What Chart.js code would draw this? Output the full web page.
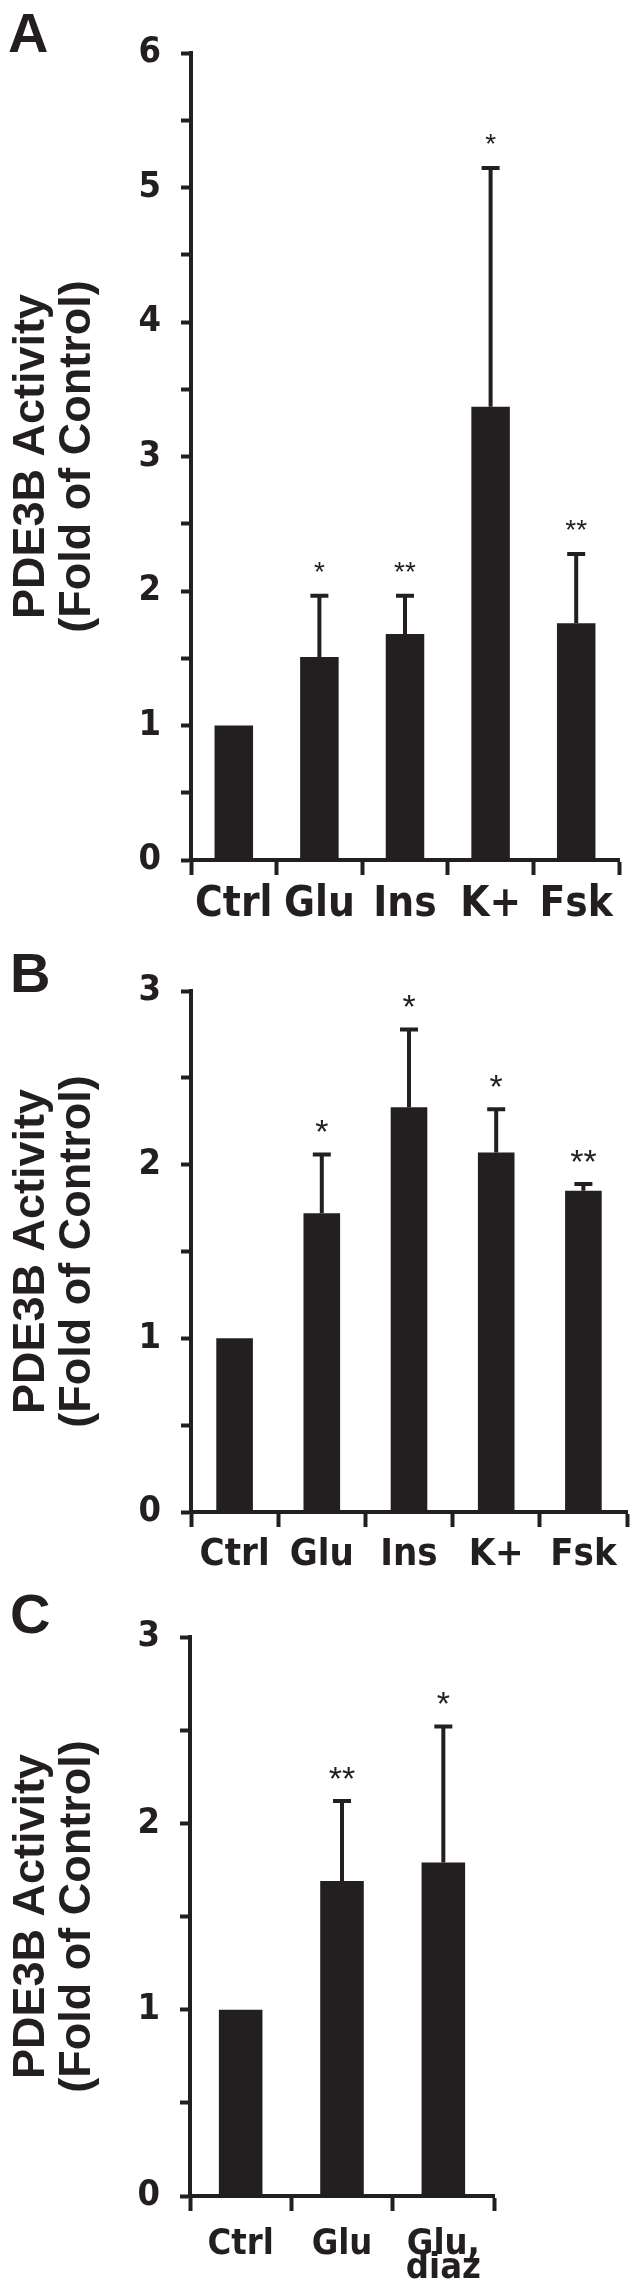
<!DOCTYPE html>
<html>
<head>
<meta charset="utf-8">
<script src="https://cdn.jsdelivr.net/npm/chart.js@4.4.1/dist/chart.umd.min.js"></script>
<style>
  body { margin: 0; background: #fff; width: 633px; height: 2290px; position: relative; overflow: hidden; }
  canvas { position: absolute; left: 0; }
</style>
</head>
<body>
<canvas id="chartA" width="633" height="940" style="top:0px"></canvas>
<canvas id="chartB" width="633" height="635" style="top:940px"></canvas>
<canvas id="chartC" width="633" height="715" style="top:1575px"></canvas>
<script>
// panel A
var labelsA = ['Ctrl', 'Glu', 'Ins', 'K+', 'Fsk'];
var meanA = [1.0, 1.51, 1.68, 3.37, 1.76];
var errA = [0, 0.47, 0.30, 1.79, 0.53];
var sigA = ['', '*', '**', '*', '**'];
var ticksA = [0, 1, 2, 3, 4, 5, 6];

// panel B
var labelsB = ['Ctrl', 'Glu', 'Ins', 'K+', 'Fsk'];
var meanB = [1.0, 1.72, 2.33, 2.07, 1.85];
var errB = [0, 0.35, 0.46, 0.26, 0.05];
var sigB = ['', '*', '*', '*', '**'];
var ticksB = [0, 1, 2, 3];

// panel C
var labelsC = ['Ctrl', 'Glu', ['Glu,', 'diaz']];
var meanC = [1.0, 1.69, 1.79];
var errC = [0, 0.44, 0.74];
var sigC = ['', '**', '*'];
var ticksC = [0, 1, 2, 3];

var ink = '#231f20';
var narrow = '"Liberation Sans Narrow", "DejaVu Sans Condensed", "Liberation Sans", sans-serif';
var wide = '"Liberation Sans", Arial, sans-serif';

// draws the upward error bars, the stars and the panel letter
function panelExtras(mean, err, sig, letter, letterX, letterY, starSize) {
  return {
    id: 'panelExtras',
    afterDatasetsDraw: function(chart) {
      var ctx = chart.ctx;
      var yScale = chart.scales.y;
      var meta = chart.getDatasetMeta(0);
      ctx.save();
      ctx.strokeStyle = ink;
      ctx.fillStyle = ink;
      ctx.lineWidth = 4;
      for (var i = 0; i < mean.length; i++) {
        var px = meta.data[i].x;
        var base = yScale.getPixelForValue(mean[i]);
        var top = yScale.getPixelForValue(mean[i] + err[i]);
        if (err[i] > 0) {
          ctx.beginPath();
          ctx.moveTo(px, base);
          ctx.lineTo(px, top);
          ctx.moveTo(px - 9, top + 2);
          ctx.lineTo(px + 9, top + 2);
          ctx.stroke();
        }
        if (sig[i]) {
          ctx.font = starSize + 'px ' + wide;
          ctx.textAlign = 'center';
          ctx.textBaseline = 'alphabetic';
          ctx.fillText(sig[i], px, top - 29 + starSize * 0.58);
        }
      }
      ctx.font = 'bold 56px ' + wide;
      ctx.textAlign = 'left';
      ctx.textBaseline = 'alphabetic';
      ctx.fillText(letter, letterX, letterY);
      ctx.restore();
    }
  };
}

function makeChart(id, labels, mean, yMax, shown, box, style) {
  var canvas = document.getElementById(id);
  return new Chart(canvas, {
    type: 'bar',
    data: {
      labels: labels,
      datasets: [{
        data: mean,
        backgroundColor: ink,
        borderWidth: 0,
        barPercentage: style.barPct,
        categoryPercentage: 1
      }]
    },
    options: {
      responsive: false,
      animation: false,
      events: [],
      layout: { padding: { left: 0, top: box.top, right: 633 - box.right, bottom: 0 } },
      plugins: { legend: { display: false }, tooltip: { enabled: false } },
      scales: {
        x: {
          afterFit: function(scale) { scale.height = canvas.height - box.bottom; },
          border: { display: true, color: ink, width: 4 },
          grid: { offset: true, drawOnChartArea: false, drawTicks: true, tickLength: 15, tickWidth: 4, tickColor: ink, color: ink },
          ticks: {
            color: ink, autoSkip: false, maxRotation: 0, minRotation: 0,
            padding: style.xPad,
            font: { family: narrow, weight: 'bold', size: style.xFont, lineHeight: style.xLine }
          }
        },
        y: {
          min: 0,
          max: yMax,
          afterFit: function(scale) { scale.width = box.left; },
          border: { display: true, color: ink, width: 4 },
          grid: { drawOnChartArea: false, drawTicks: true, tickLength: 10, tickWidth: 4, tickColor: ink, color: ink },
          ticks: {
            stepSize: 0.5,
            maxTicksLimit: 20,
            color: ink,
            padding: 20,
            font: { family: narrow, weight: 'bold', size: 36 },
            callback: function(v) { return shown.indexOf(v) >= 0 ? String(v) : ''; }
          },
          title: {
            display: true,
            text: ['PDE3B Activity', '(Fold of Control)'],
            color: ink,
            padding: { top: 9, bottom: 0 },
            font: { family: wide, weight: 'bold', size: 45, lineHeight: '46px' }
          }
        }
      }
    },
    plugins: [panelExtras(mean, style.err, style.sig, style.letter, style.letterX, style.letterY, style.star)]
  });
}

makeChart('chartA', labelsA, meanA, 6, ticksA,
  { left: 191, right: 619, top: 53, bottom: 860 },
  { barPct: 0.45, xFont: 42, xLine: '42px', xPad: 9, err: errA, sig: sigA, letter: 'A', letterX: 8, letterY: 52, star: 28 });

makeChart('chartB', labelsB, meanB, 3, ticksB,
  { left: 191, right: 627, top: 51, bottom: 572 },
  { barPct: 0.42, xFont: 38, xLine: '38px', xPad: 9, err: errB, sig: sigB, letter: 'B', letterX: 10, letterY: 52, star: 34 });

makeChart('chartC', labelsC, meanC, 3, ticksC,
  { left: 190, right: 494, top: 62, bottom: 621 },
  { barPct: 0.43, xFont: 36, xLine: '24px', xPad: 22, err: errC, sig: sigC, letter: 'C', letterX: 10, letterY: 58, star: 34 });
</script>
</body>
</html>
